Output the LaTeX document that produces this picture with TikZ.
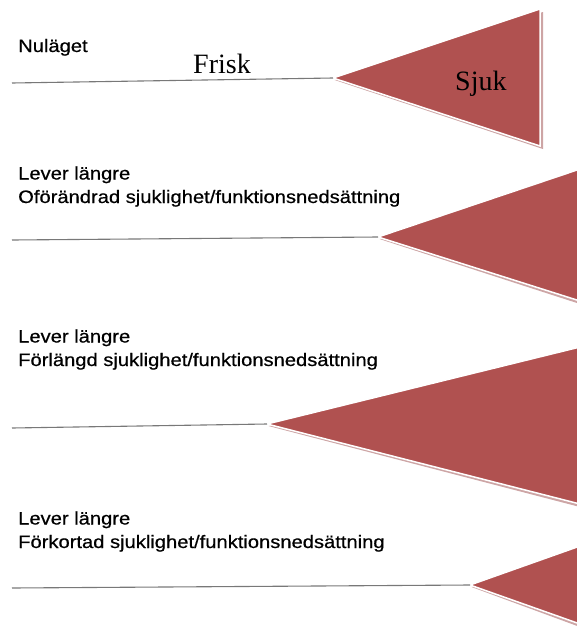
\documentclass[tikz,border=0pt]{standalone}
\usepackage{fontspec}
\setmainfont{Liberation Serif}
\newfontfamily\labfont[FakeStretch=1.12,FakeBold=0.6]{Liberation Sans}
\definecolor{sickred}{RGB}{176,81,80}
\definecolor{shadowpink}{RGB}{205,165,165}
\definecolor{linegray}{RGB}{120,120,120}
\tikzset{
  lab/.style={anchor=base west, inner sep=0pt, align=left, font=\labfont\fontsize{18}{23.5}\selectfont},
  big/.style={anchor=base west, inner sep=0pt, font=\fontsize{28}{30}\selectfont},
  tl/.style={draw=linegray, line width=1.1pt},
  tri/.style={fill=sickred, draw=white, line width=1.5pt, line join=miter},
  trishadow/.style={fill=shadowpink}
}
\begin{document}
\begin{tikzpicture}[x=1pt,y=-1pt]
\useasboundingbox (0,0) rectangle (577,627);
% row 1
\coordinate (s1) at (12,83);
\coordinate (t1) at (333,78);
\fill[trishadow] ([shift={(1.5,2)}]t1) -- (543,12) -- (543,149) -- cycle;
\path[tri] (t1) -- (540,9) -- (540,146) -- cycle;
\draw[tl] (s1) -- (t1);
\node[lab] (n1) at (18,52) {Nuläget};
\node[big] (frisk) at (193,73) {Frisk};
\node[big] (sjuk) at (455,90) {Sjuk};
% row 2
\coordinate (s2) at (12,240);
\coordinate (t2) at (378,237);
\fill[trishadow] ([shift={(1.5,2)}]t2) -- (580,172) -- (580,304) -- cycle;
\path[tri] (t2) -- (580,169) -- (580,301) -- cycle;
\draw[tl] (s2) -- (t2);
\node[lab] (n2) at (18,203) {Lever längre\\Oförändrad sjuklighet/funktionsnedsättning};
% row 3
\coordinate (s3) at (12,428);
\coordinate (t3) at (267,424);
\fill[trishadow] ([shift={(1.5,2)}]t3) -- (580,350) -- (580,507) -- cycle;
\path[tri] (t3) -- (580,347) -- (580,504) -- cycle;
\draw[tl] (s3) -- (t3);
\node[lab] (n3) at (18,366) {Lever längre\\Förlängd sjuklighet/funktionsnedsättning};
% row 4
\coordinate (s4) at (12,588);
\coordinate (t4) at (470,585);
\fill[trishadow] ([shift={(1.5,2)}]t4) -- (580,550) -- (580,627) -- cycle;
\path[tri] (t4) -- (580,546) -- (580,624) -- cycle;
\draw[tl] (s4) -- (t4);
\node[lab] (n4) at (18,548) {Lever längre\\Förkortad sjuklighet/funktionsnedsättning};
\end{tikzpicture}
\end{document}
